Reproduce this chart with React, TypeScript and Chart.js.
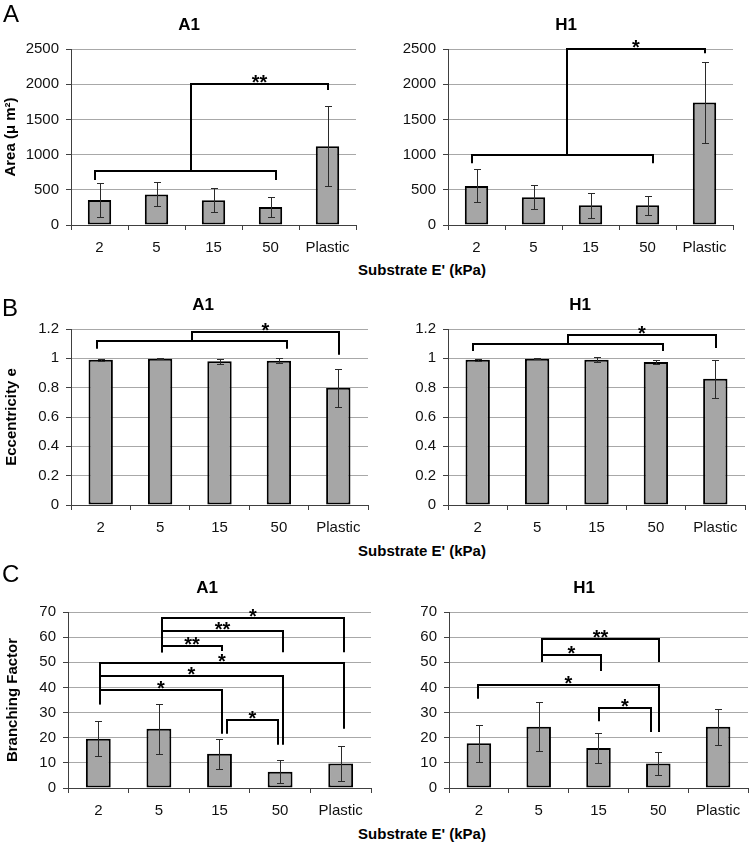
import React, { useEffect, useRef } from 'react';
import { Chart, registerables } from 'chart.js';

Chart.register(...registerables);

const FONT = '"Liberation Sans", Arial, Helvetica, sans-serif';
Chart.defaults.font.family = FONT;

// ---------- data ----------
const categories = ['2', '5', '15', '50', 'Plastic'];

const areaA1 = [355, 435, 350, 255, 1120];
const areaA1Err = [235, 170, 170, 140, 565];
const areaH1 = [555, 395, 280, 280, 1740];
const areaH1Err = [235, 170, 175, 135, 570];

const eccA1 = [0.99, 0.998, 0.98, 0.983, 0.8];
const eccA1Err = [0.005, 0.002, 0.018, 0.016, 0.13];
const eccH1 = [0.99, 0.998, 0.99, 0.975, 0.86];
const eccH1Err = [0.005, 0.002, 0.017, 0.014, 0.13];

const branchA1 = [19.6, 23.6, 13.6, 6.5, 9.7];
const branchA1Err = [7, 10, 6, 4.5, 7];
const branchH1 = [17.8, 24.4, 15.9, 9.7, 24.4];
const branchH1Err = [7.3, 9.8, 5.9, 4.5, 7.2];

// significance brackets: [fromIndex, toIndex, level, leftEndLevel, rightEndLevel, label]
type Bracket = [number, number, number, number, number, string];
const areaA1Brackets: Bracket[] = [
  [-0.08, 3.1, 760, 640, 640, ''],
  [1.6, 4.0, 2000, 760, 1918, '**'],
];
const areaH1Brackets: Bracket[] = [
  [-0.08, 3.09, 990, 876, 876, ''],
  [1.59, 4.0, 2500, 990, 2438, '*'],
];
const eccA1Brackets: Bracket[] = [
  [-0.07, 3.13, 1.12, 1.066, 1.066, ''],
  [1.53, 4.02, 1.18, 1.12, 1.025, '*'],
];
const eccH1Brackets: Bracket[] = [
  [-0.08, 3.12, 1.1, 1.05, 1.05, ''],
  [1.52, 4.01, 1.16, 1.1, 1.07, '*'],
];
const branchA1Brackets: Bracket[] = [
  [1.05, 4.06, 67.6, 54, 54, '*'],
  [1.05, 3.05, 62.3, 54, 54, '**'],
  [1.05, 2.04, 56.3, 54, 54.5, '**'],
  [0.03, 4.06, 49.8, 33.3, 23.6, '*'],
  [0.03, 3.05, 44.4, 33.3, 17.2, '*'],
  [0.03, 2.04, 38.8, 33.3, 21.6, '*'],
  [2.13, 2.97, 26.9, 21.6, 17.2, '*'],
];
const branchH1Brackets: Bracket[] = [
  [1.05, 3.02, 59.1, 50.1, 50.1, '**'],
  [1.05, 2.05, 52.8, 50.1, 46.5, '*'],
  [-0.02, 3.02, 40.8, 35.5, 22.3, '*'],
  [2.01, 2.87, 32, 26.5, 22.3, '*'],
];

// y-axis tick settings
const areaTickMax = 2500;
const areaTickStep = 500;
const eccTickMax = 1.2;
const eccTickStep = 0.2;
const branchTickMax = 70;
const branchTickStep = 10;

// ---------- layout ----------
type PanelCfg = {
  values: number[];
  errors: number[];
  brackets: Bracket[];
  max: number;
  step: number;
  plot: [number, number, number, number]; // left, top, right, bottom
  col: number;
};

const panels: PanelCfg[] = [
  { values: areaA1, errors: areaA1Err, brackets: areaA1Brackets, max: areaTickMax, step: areaTickStep, plot: [71, 49, 356, 225], col: 0 },
  { values: areaH1, errors: areaH1Err, brackets: areaH1Brackets, max: areaTickMax, step: areaTickStep, plot: [448, 49, 733, 225], col: 1 },
  { values: eccA1, errors: eccA1Err, brackets: eccA1Brackets, max: eccTickMax, step: eccTickStep, plot: [71, 329, 368, 505], col: 0 },
  { values: eccH1, errors: eccH1Err, brackets: eccH1Brackets, max: eccTickMax, step: eccTickStep, plot: [448, 329, 745, 505], col: 1 },
  { values: branchA1, errors: branchA1Err, brackets: branchA1Brackets, max: branchTickMax, step: branchTickStep, plot: [68, 612, 371, 788], col: 0 },
  { values: branchH1, errors: branchH1Err, brackets: branchH1Brackets, max: branchTickMax, step: branchTickStep, plot: [449, 612, 748, 788], col: 1 },
];

const PAD_TOP = 44;
const X_AXIS_H = 34;
const COL_W = 376;

const overlayPlugin = {
  id: 'overlay',
  afterDatasetsDraw(chart: any, _args: any, opts: any) {
    const { ctx } = chart;
    const xs = chart.scales.x;
    const ys = chart.scales.y;
    const p0 = xs.getPixelForValue(0);
    const p1 = xs.getPixelForValue(1);
    const px = (i: number) => p0 + i * (p1 - p0);
    const vals: number[] = opts.values;
    const errs: number[] = opts.errors;
    ctx.save();
    // error bars
    ctx.strokeStyle = '#2a2a2a';
    ctx.lineWidth = 1;
    vals.forEach((v, i) => {
      const x = Math.round(px(i)) + 0.5;
      const yt = Math.round(ys.getPixelForValue(v + errs[i])) + 0.5;
      const yb = Math.round(ys.getPixelForValue(Math.max(0, v - errs[i]))) + 0.5;
      ctx.beginPath();
      ctx.moveTo(x, yt);
      ctx.lineTo(x, yb);
      ctx.moveTo(x - 3.5, yt);
      ctx.lineTo(x + 3.5, yt);
      ctx.moveTo(x - 3.5, yb);
      ctx.lineTo(x + 3.5, yb);
      ctx.stroke();
    });
    // brackets
    ctx.strokeStyle = '#000';
    ctx.fillStyle = '#000';
    ctx.lineWidth = 2;
    ctx.lineJoin = 'miter';
    ctx.font = `bold 20px ${FONT}`;
    ctx.textAlign = 'center';
    ctx.textBaseline = 'alphabetic';
    (opts.brackets as Bracket[]).forEach(([a, b, lvl, e1, e2, label]) => {
      const X1 = Math.round(px(a));
      const X2 = Math.round(px(b));
      const Y = Math.round(ys.getPixelForValue(lvl));
      const E1 = ys.getPixelForValue(e1);
      const E2 = ys.getPixelForValue(e2);
      ctx.beginPath();
      ctx.moveTo(X1, E1);
      ctx.lineTo(X1, Y);
      ctx.lineTo(X2, Y);
      ctx.lineTo(X2, E2);
      ctx.stroke();
      if (label) ctx.fillText(label, (X1 + X2) / 2, Y + 5);
    });
    ctx.restore();
  },
};

const fmtTick = (v: any) => String(+(+v).toFixed(3));

function BarPanel({ cfg }: { cfg: PanelCfg }) {
  const ref = useRef<HTMLCanvasElement>(null);
  const [pl, pt, pr, pb] = cfg.plot;
  const left = cfg.col * COL_W;
  const top = pt - PAD_TOP;
  const width = COL_W;
  const height = pb + X_AXIS_H - top;

  useEffect(() => {
    if (!ref.current) return;
    const chart = new Chart(ref.current, {
      type: 'bar',
      data: {
        labels: categories,
        datasets: [
          {
            data: cfg.values,
            backgroundColor: '#a6a6a6',
            borderColor: '#000',
            borderWidth: 2,
            borderSkipped: false,
            barPercentage: 0.41,
            categoryPercentage: 1,
          },
        ],
      },
      options: {
        animation: false,
        responsive: false,
        maintainAspectRatio: false,
        events: [],
        layout: { padding: { top: PAD_TOP, right: left + width - pr, left: 0, bottom: 0 } },
        plugins: {
          legend: { display: false },
          title: { display: false },
          tooltip: { enabled: false },
          overlay: { values: cfg.values, errors: cfg.errors, brackets: cfg.brackets },
        } as any,
        scales: {
          x: {
            offset: true,
            grid: { display: true, drawOnChartArea: false, drawTicks: true, tickLength: 5, tickColor: '#404040', offset: true },
            border: { color: '#404040', width: 1 },
            ticks: { font: { size: 15, family: FONT }, color: '#111', padding: 9, maxRotation: 0, autoSkip: false },
            afterFit: (s: any) => {
              s.height = X_AXIS_H;
            },
          },
          y: {
            min: 0,
            max: cfg.max,
            ticks: { stepSize: cfg.step, font: { size: 15, family: FONT }, color: '#111', padding: 7, callback: fmtTick },
            grid: { color: '#a8a8a8', lineWidth: 1, tickLength: 5, tickColor: '#404040' },
            border: { color: '#404040', width: 1 },
            afterFit: (s: any) => {
              s.width = pl - left;
            },
          },
        },
      },
      plugins: [overlayPlugin],
    });
    return () => chart.destroy();
  }, []);

  return (
    <canvas
      ref={ref}
      width={width}
      height={height}
      style={{ position: 'absolute', left, top, width, height }}
    />
  );
}

function Txt({ x, y, size, bold, children, rotate }: any) {
  const style: any = {
    position: 'absolute',
    left: x,
    top: y,
    fontFamily: FONT,
    fontSize: size,
    lineHeight: `${size}px`,
    fontWeight: bold ? 'bold' : 'normal',
    whiteSpace: 'nowrap',
    color: '#000',
    transform: rotate ? 'translate(-50%, -50%) rotate(-90deg)' : 'translate(-50%, -50%)',
  };
  return <div style={style}>{children}</div>;
}

function Letter({ x, y, children }: any) {
  return (
    <div
      style={{
        position: 'absolute',
        left: x,
        top: y,
        fontFamily: FONT,
        fontSize: 24,
        lineHeight: '24px',
        color: '#000',
      }}
    >
      {children}
    </div>
  );
}

export default function App() {
  return (
    <div style={{ position: 'absolute', left: 0, top: 0, width: 752, height: 843, background: '#fff', overflow: 'hidden' }}>
      {panels.map((p, i) => (
        <BarPanel key={i} cfg={p} />
      ))}
      <Letter x={3} y={2}>A</Letter>
      <Letter x={2} y={296}>B</Letter>
      <Letter x={2} y={562}>C</Letter>

      <Txt x={189} y={24} size={17} bold>A1</Txt>
      <Txt x={566} y={24} size={17} bold>H1</Txt>
      <Txt x={203} y={304} size={17} bold>A1</Txt>
      <Txt x={580} y={304} size={17} bold>H1</Txt>
      <Txt x={207} y={587} size={17} bold>A1</Txt>
      <Txt x={584} y={587} size={17} bold>H1</Txt>

      <Txt x={9} y={137} size={15} bold rotate>Area (μ m²)</Txt>
      <Txt x={9.5} y={417} size={15} bold rotate>Eccentricity e</Txt>
      <Txt x={11} y={700} size={15} bold rotate>Branching Factor</Txt>

      <Txt x={422} y={269} size={15} bold>Substrate E' (kPa)</Txt>
      <Txt x={422} y={550} size={15} bold>Substrate E' (kPa)</Txt>
      <Txt x={422} y={833} size={15} bold>Substrate E' (kPa)</Txt>
    </div>
  );
}
